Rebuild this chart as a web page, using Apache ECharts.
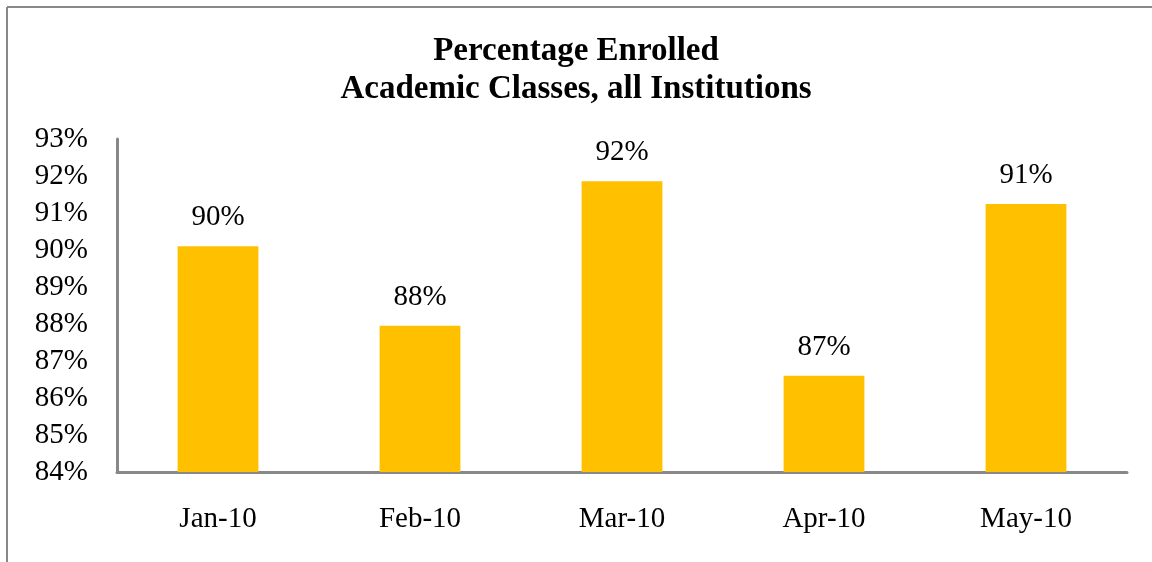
<!DOCTYPE html>
<html>
<head>
<meta charset="utf-8">
<script src="https://cdn.jsdelivr.net/npm/echarts@6/dist/echarts.min.js"></script>
<style>
    html, body { margin: 0; padding: 0; background: #fff; }
    .EC { width: 1152px; height: 562px; }
</style>
</head>
<body>
<div class="EC"></div>
<script>
    // data
    const months = ['Jan-10', 'Feb-10', 'Mar-10', 'Apr-10', 'May-10'];
    const enrolled = [90.1, 87.95, 91.86, 86.6, 91.24];
    const yMin = 84, yMax = 93, yStep = 1;

    window.onload = () => {
        let EC = echarts.init(document.querySelector('.EC'))
        const font = '"Liberation Serif", "Times New Roman", serif';
        let option = {
            backgroundColor: '#fff',
            animation: false,
            title: {
                text: 'Percentage Enrolled\nAcademic Classes, all Institutions',
                left: 'center',
                top: 27,
                textStyle: {
                    fontFamily: font,
                    fontWeight: 'bold',
                    fontSize: 33,
                    lineHeight: 38,
                    color: '#000'
                }
            },
            // chart frame (top + left edges only)
            graphic: [
                { type: 'line', shape: { x1: 7, y1: 7, x2: 1152, y2: 7 }, style: { stroke: '#888', lineWidth: 2 } },
                { type: 'line', shape: { x1: 7, y1: 7, x2: 7, y2: 562 }, style: { stroke: '#888', lineWidth: 2 } }
            ],
            grid: { left: 117, right: 25, top: 139, bottom: 90 },
            xAxis: {
                type: 'category',
                data: months,
                axisLine: { lineStyle: { color: '#888', width: 3 } },
                axisTick: { show: false },
                axisLabel: { fontFamily: font, fontSize: 29, color: '#000', margin: 33 }
            },
            yAxis: {
                type: 'value',
                min: yMin,
                max: yMax,
                interval: yStep,
                axisLine: { show: true, lineStyle: { color: '#888', width: 3 } },
                axisTick: { show: false },
                splitLine: { show: false },
                axisLabel: {
                    fontFamily: font, fontSize: 29, color: '#000', margin: 29,
                    formatter: '{value}%'
                }
            },
            series: [{
                type: 'bar',
                data: enrolled,
                barWidth: '40%',
                itemStyle: { color: '#FFC000' },
                label: {
                    show: true,
                    position: 'top',
                    distance: 14,
                    fontFamily: font,
                    fontSize: 29,
                    color: '#000',
                    formatter: p => Math.round(p.value) + '%'
                }
            }]
        }
        EC.setOption(option)
    }
</script>
</body>
</html>
